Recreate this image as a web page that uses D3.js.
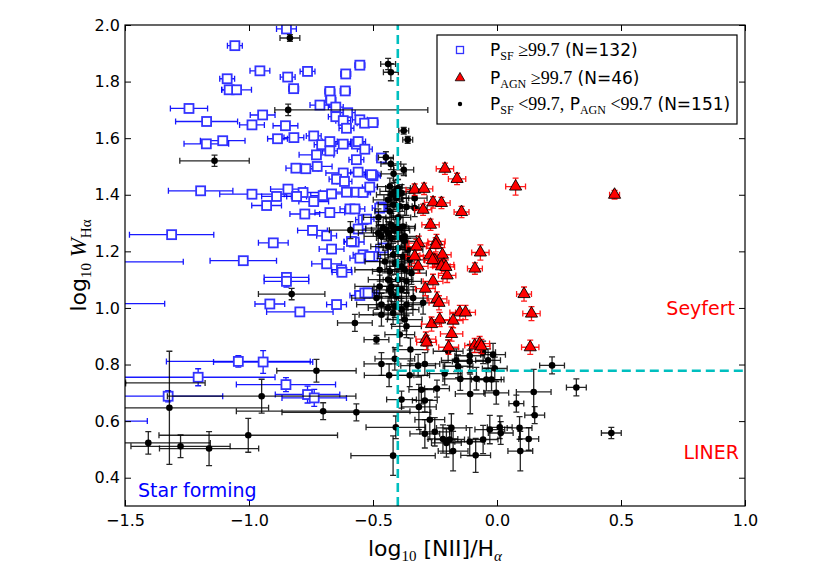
<!DOCTYPE html>
<html>
<head>
<meta charset="utf-8">
<script src="https://cdn.jsdelivr.net/npm/d3@7"></script>
<style>
  body { margin: 0; background: #fff; }
  svg text { font-family: "DejaVu Sans", sans-serif; }
</style>
</head>
<body>
<div id="whan"></div>
<script>
// [log NII/Ha, log W_Ha, x error, y error, (optional upper x error)]
const sfPoints = [
  [-0.849,1.986,0.04,0.01],[-1.057,1.927,0.03,0.01],[-0.956,1.838,0.04,0.01],[-0.764,1.836,0.03,0.01],
  [-0.844,1.816,0.03,0.01],[-0.610,1.827,0.02,0.01],[-0.553,1.858,0.02,0.01],[-1.088,1.810,0.03,0.01],
  [-1.080,1.771,0.03,0.01],[-1.050,1.771,0.06,0.01],[-0.820,1.775,0.02,0.01],[-0.674,1.765,0.02,0.01],
  [-0.612,1.767,0.02,0.01],[-0.670,1.735,0.02,0.01],[-1.242,1.705,0.075,0.01],[-0.714,1.717,0.04,0.01],
  [-0.650,1.710,0.03,0.01],[-0.602,1.690,0.03,0.01],[-0.945,1.682,0.05,0.01],[-1.171,1.659,0.125,0.01],
  [-0.988,1.647,0.05,0.01],[-0.853,1.644,0.05,0.01],[-0.650,1.676,0.03,0.01],[-0.620,1.662,0.03,0.01],
  [-0.607,1.635,0.03,0.01],[-0.553,1.665,0.03,0.01],[-0.534,1.653,0.03,0.01],[-0.500,1.655,0.02,0.01],
  [-0.739,1.608,0.03,0.01],[-0.885,1.598,0.04,0.01],[-0.819,1.602,0.04,0.01],[-1.172,1.580,0.09,0.01],
  [-1.106,1.591,0.09,0.01],[-0.707,1.577,0.03,0.01],[-0.674,1.588,0.03,0.01],[-0.620,1.579,0.03,0.01],
  [-0.567,1.579,0.03,0.01],[-0.560,1.588,0.03,0.01],[-0.533,1.561,0.03,0.01],[-0.728,1.541,0.07,0.01],
  [-0.674,1.555,0.03,0.01],[-0.567,1.524,0.03,0.01],[-0.811,1.494,0.04,0.01],[-0.771,1.492,0.05,0.01],
  [-0.725,1.500,0.06,0.01],[-0.620,1.477,0.07,0.01],[-0.560,1.480,0.03,0.01],[-0.500,1.467,0.03,0.01],
  [-0.647,1.455,0.03,0.01],[-0.615,1.447,0.03,0.01],[-1.195,1.414,0.13,0.01],[-0.988,1.402,0.13,0.01],
  [-0.843,1.420,0.07,0.01],[-0.889,1.394,0.06,0.01],[-0.782,1.408,0.07,0.01],[-0.808,1.394,0.04,0.01],
  [-0.929,1.362,0.06,0.01],[-0.739,1.376,0.06,0.01],[-0.701,1.397,0.05,0.01],[-0.667,1.403,0.05,0.01],
  [-0.607,1.409,0.05,0.01],[-0.567,1.409,0.05,0.01],[-0.540,1.408,0.03,0.01],[-0.513,1.427,0.03,0.01],
  [-0.775,1.332,0.06,0.01],[-0.674,1.337,0.06,0.01],[-0.593,1.350,0.04,0.01],[-0.573,1.350,0.04,0.01],
  [-0.466,1.357,0.02,0.01],[-0.540,1.312,0.03,0.01],[-0.526,1.314,0.03,0.01],[-0.560,1.279,0.03,0.01],
  [-0.744,1.274,0.06,0.01],[-0.687,1.255,0.04,0.01],[-1.312,1.259,0.17,0.01],[-0.902,1.230,0.06,0.01],
  [-0.576,1.233,0.04,0.01],[-0.667,1.208,0.05,0.01],[-0.540,1.188,0.04,0.01],[-0.500,1.182,0.03,0.01],
  [-1.023,1.167,0.134,0.01],[-0.687,1.156,0.06,0.01],[-0.627,1.135,0.04,0.01],[-0.625,1.126,0.04,0.01],
  [-0.553,1.176,0.04,0.01],[-0.849,1.108,0.09,0.01],[-0.849,1.094,0.09,0.02],[-0.553,1.044,0.04,0.01],
  [-0.533,1.053,0.04,0.01],[-0.916,1.014,0.06,0.01],[-0.647,1.012,0.04,0.01],[-0.795,0.986,0.134,0.015],
  [-1.043,0.811,0.29,0.02],[-0.943,0.809,0.2,0.04],[-1.205,0.755,0.31,0.03],[-0.851,0.729,0.2,0.025],
  [-1.326,0.688,0.22,0.02],[-0.764,0.694,0.13,0.03],[-0.737,0.682,0.13,0.03],[-0.466,1.530,0.02,0.01],
  [-0.506,1.471,0.03,0.01],[-0.459,1.212,0.03,0.01],[-0.587,1.235,0.03,0.01],[-0.473,1.353,0.03,0.01],
  [-0.513,1.182,0.03,0.01],[-0.520,1.053,0.04,0.01],[-1.620,1.163,0.355,0.01],[-1.600,1.015,0.26,0.01],
  [-1.650,0.600,0.24,0.01]
];

const agnPoints = [
  [-0.210,1.492,0.035,0.02],[-0.161,1.456,0.035,0.02],[0.075,1.429,0.04,0.03],[-0.332,1.418,0.035,0.02],
  [-0.294,1.421,0.035,0.02],[-0.258,1.373,0.035,0.02],[-0.224,1.371,0.035,0.02],[-0.298,1.347,0.035,0.02],
  [-0.143,1.339,0.03,0.02],[-0.268,1.294,0.035,0.02],[-0.315,1.229,0.04,0.025],[-0.244,1.235,0.035,0.025],
  [-0.247,1.223,0.035,0.025],[-0.325,1.217,0.04,0.025],[-0.067,1.196,0.035,0.027],[-0.271,1.186,0.04,0.025],
  [-0.220,1.188,0.035,0.025],[-0.251,1.168,0.04,0.025],[-0.214,1.153,0.04,0.025],[-0.224,1.147,0.035,0.025],
  [-0.318,1.147,0.04,0.025],[-0.089,1.139,0.03,0.02],[-0.201,1.115,0.035,0.025],[-0.258,1.094,0.04,0.025],
  [-0.289,1.068,0.04,0.025],[0.109,1.049,0.03,0.025],[-0.242,1.032,0.04,0.025],[-0.234,1.018,0.04,0.025],
  [-0.150,0.984,0.04,0.025],[-0.127,0.984,0.04,0.025],[0.139,0.980,0.035,0.025],[-0.264,0.943,0.04,0.025],
  [-0.231,0.959,0.04,0.025],[-0.177,0.955,0.04,0.025],[-0.183,0.908,0.045,0.025],[-0.287,0.890,0.04,0.025],
  [-0.284,0.878,0.04,0.025],[-0.195,0.861,0.04,0.025],[-0.090,0.867,0.04,0.025],[-0.070,0.874,0.04,0.025],
  [-0.063,0.864,0.035,0.025],[0.134,0.861,0.035,0.025],[0.474,1.400,0.02,0.015],[-0.206,1.145,0.035,0.025],
  [-0.260,1.169,0.035,0.025],[-0.332,1.182,0.035,0.025]
];

const otherPoints = [
  [-0.835,1.954,0.04,0.012],[-0.439,1.862,0.03,0.02],[-0.428,1.833,0.03,0.03],[-0.842,1.700,0.054,0.02,0.563],
  [-0.376,1.626,0.02,0.012],[-0.360,1.594,0.02,0.012],[-1.139,1.520,0.14,0.02],[-0.448,1.532,0.03,0.02],
  [-0.428,1.509,0.04,0.02],[-0.417,1.474,0.05,0.03],[-0.376,1.488,0.04,0.02],[-0.432,1.429,0.05,0.03],
  [-0.412,1.412,0.06,0.04],[-0.399,1.424,0.05,0.03],[-0.426,1.400,0.06,0.04],[-0.406,1.388,0.05,0.04],
  [-0.439,1.382,0.06,0.03],[-0.385,1.406,0.05,0.03],[-0.419,1.365,0.06,0.04],[-0.432,1.341,0.06,0.04],
  [-0.392,1.359,0.05,0.04],[-0.332,1.388,0.05,0.03],[-0.332,1.353,0.05,0.03],[-0.365,1.357,0.05,0.03],
  [-0.459,1.282,0.07,0.04],[-0.439,1.265,0.06,0.04],[-0.412,1.274,0.06,0.04],[-0.392,1.282,0.06,0.04],
  [-0.372,1.253,0.06,0.04],[-0.591,1.275,0.085,0.03],[-0.479,1.265,0.08,0.04],[-0.446,1.276,0.06,0.04],
  [-0.426,1.294,0.06,0.04],[-0.406,1.282,0.05,0.04],[-0.379,1.288,0.05,0.04],[-0.466,1.253,0.07,0.04],
  [-0.426,1.247,0.06,0.04],[-0.385,1.247,0.06,0.04],[-0.372,1.235,0.06,0.04],[-0.439,1.217,0.07,0.04],
  [-0.399,1.212,0.06,0.04],[-0.359,1.206,0.06,0.04],[-0.419,1.188,0.06,0.04],[-0.379,1.182,0.06,0.04],
  [-0.352,1.170,0.06,0.04],[-0.452,1.164,0.08,0.04],[-0.412,1.159,0.06,0.04],[-0.385,1.147,0.06,0.04],
  [-0.473,1.135,0.1,0.04],[-0.432,1.129,0.07,0.04],[-0.372,1.135,0.06,0.04],[-0.345,1.123,0.06,0.04],
  [-0.439,1.100,0.08,0.04],[-0.399,1.100,0.06,0.04],[-0.365,1.094,0.06,0.04],[-0.473,1.076,0.1,0.04],
  [-0.426,1.076,0.07,0.04],[-0.385,1.064,0.06,0.04],[-0.486,1.035,0.1,0.04],[-0.426,1.053,0.07,0.04],
  [-0.466,1.012,0.1,0.04],[-0.439,1.000,0.08,0.04],[-0.412,1.006,0.07,0.04],[-0.385,0.994,0.07,0.04],
  [-0.338,1.035,0.06,0.04],[-0.298,1.018,0.06,0.04],[-0.466,0.976,0.09,0.04],[-0.419,0.982,0.08,0.04],
  [-0.372,0.959,0.07,0.04],[-0.365,0.935,0.06,0.04],[-0.573,0.947,0.07,0.03],[-0.486,0.888,0.05,0.015],
  [-0.828,1.049,0.134,0.02],[-0.392,0.906,0.06,0.04],[-0.349,0.853,0.07,0.04],[-0.412,0.820,0.08,0.04],
  [-0.466,0.802,0.07,0.04],[-0.435,0.762,0.1,0.04],[-0.352,0.762,0.08,0.04],[-0.318,0.796,0.07,0.04],
  [-0.291,0.802,0.06,0.04],[-0.211,0.768,0.07,0.04],[-0.197,0.847,0.06,0.04],[-0.164,0.815,0.06,0.04],
  [-0.157,0.794,0.06,0.04],[-0.148,0.749,0.07,0.04],[-0.110,0.831,0.06,0.04],[-0.083,0.750,0.06,0.04],
  [-0.056,0.843,0.05,0.04],[-0.036,0.815,0.05,0.04],[-0.016,0.835,0.05,0.04],[-0.009,0.786,0.05,0.04],
  [-0.043,0.747,0.06,0.04],[-0.022,0.747,0.05,0.04],[-0.110,0.811,0.07,0.04],[0.222,0.797,0.05,0.03],
  [0.320,0.719,0.04,0.03],[-0.305,0.711,0.05,0.05],[-0.242,0.715,0.05,0.03],[-0.385,0.676,0.06,0.03],
  [-0.291,0.673,0.05,0.04],[-0.315,0.650,0.07,0.08],[-0.271,0.605,0.06,0.07],[-0.567,0.631,0.3,0.03],
  [-0.108,0.696,0.06,0.07],[-0.003,0.700,0.05,0.04],[0.078,0.662,0.03,0.03],[0.148,0.703,0.07,0.08],
  [0.152,0.621,0.04,0.03],[-0.408,0.578,0.12,0.04],[-0.419,0.478,0.17,0.07],[-0.291,0.555,0.06,0.05],
  [-0.251,0.562,0.06,0.05],[-0.218,0.537,0.06,0.05],[-0.204,0.523,0.06,0.05],[-0.184,0.576,0.06,0.05],
  [-0.177,0.494,0.06,0.07],[-0.191,0.535,0.06,0.05],[-0.110,0.527,0.06,0.05],[-0.086,0.479,0.06,0.06],
  [-0.056,0.535,0.06,0.05],[-0.029,0.570,0.06,0.05],[0.011,0.578,0.05,0.04],[0.015,0.558,0.05,0.04],
  [0.091,0.576,0.05,0.04],[0.128,0.537,0.04,0.04],[0.094,0.494,0.05,0.07],[0.461,0.558,0.04,0.02],
  [-0.728,0.778,0.16,0.04],[-0.949,0.688,0.38,0.06],[-1.321,0.647,0.4,0.2],[-0.701,0.635,0.35,0.03],
  [-1.003,0.550,0.36,0.06],[-1.406,0.523,0.25,0.04],[-1.276,0.511,0.2,0.04],[-1.161,0.503,0.2,0.06],
  [-1.507,0.735,0.33,0.01],[-0.406,1.041,0.07,0.04],[-0.432,1.064,0.07,0.04],[-0.365,1.012,0.06,0.04],
  [-0.478,1.320,0.06,0.03],[-0.398,1.320,0.05,0.04]
];

const xTicks = [-1.5, -1.0, -0.5, 0.0, 0.5, 1.0];
const yTicks = [0.4, 0.6, 0.8, 1.0, 1.2, 1.4, 1.6, 1.8, 2.0];
const niiCut = -0.4;       // log [NII]/Ha boundary
const whaCut = 0.778;      // log W_Ha = log 6 boundary

const width = 827, height = 582;
const margin = { top: 25, right: 82, bottom: 76, left: 125 };

const svg = d3.select("#whan").append("svg")
    .attr("width", width)
    .attr("height", height);

const x = d3.scaleLinear().domain([-1.5, 1.0]).range([margin.left, width - margin.right]);
const y = d3.scaleLinear().domain([0.3, 2.0]).range([height - margin.bottom, margin.top]);

svg.append("clipPath").attr("id", "plot-clip")
  .append("rect")
    .attr("x", margin.left).attr("y", margin.top)
    .attr("width", width - margin.left - margin.right)
    .attr("height", height - margin.top - margin.bottom);

const plot = svg.append("g").attr("clip-path", "url(#plot-clip)");

// error bars with caps
function errorPath(p) {
    const [vx, vy, xe, ye, xeHi] = p;
    const hi = xeHi === undefined ? xe : xeHi;
    const cx = x(vx), cy = y(vy);
    const x0 = x(vx - xe), x1 = x(vx + hi), y0 = y(vy - ye), y1 = y(vy + ye);
    const c = 3;
    return `M${x0},${cy}H${x1}M${x0},${cy - c}V${cy + c}M${x1},${cy - c}V${cy + c}` +
           `M${cx},${y0}V${y1}M${cx - c},${y0}H${cx + c}M${cx - c},${y1}H${cx + c}`;
}

function drawErrors(pts, color, opacity) {
    plot.append("g")
        .attr("fill", "none")
        .attr("stroke", color)
        .attr("stroke-opacity", opacity)
        .attr("stroke-width", 1.3)
      .selectAll("path")
      .data(pts)
      .join("path")
        .attr("d", errorPath);
}

// star forming
drawErrors(sfPoints, "blue", 0.9);
plot.append("g").selectAll("rect")
    .data(sfPoints)
    .join("rect")
      .attr("x", d => x(d[0]) - 4.5)
      .attr("y", d => y(d[1]) - 4.5)
      .attr("width", 9)
      .attr("height", 9)
      .attr("fill", "white")
      .attr("stroke", "#3333ff")
      .attr("stroke-width", 1.8);

// others
drawErrors(otherPoints, "black", 0.85);
plot.append("g").selectAll("circle")
    .data(otherPoints)
    .join("circle")
      .attr("cx", d => x(d[0]))
      .attr("cy", d => y(d[1]))
      .attr("r", 3.3)
      .attr("fill", "black");

// AGN
drawErrors(agnPoints, "red", 0.9);
const tri = d3.symbol().type(d3.symbolTriangle).size(64);
plot.append("g").selectAll("path")
    .data(agnPoints)
    .join("path")
      .attr("transform", d => `translate(${x(d[0])},${y(d[1])})`)
      .attr("d", tri)
      .attr("fill", "red")
      .attr("stroke", "black")
      .attr("stroke-width", 0.9);

// WHAN boundaries
svg.append("line")
    .attr("x1", x(niiCut)).attr("x2", x(niiCut))
    .attr("y1", y(0.3)).attr("y2", y(2.0))
    .attr("stroke", "#00bfbf").attr("stroke-width", 2.6)
    .attr("stroke-dasharray", "9,5");
svg.append("line")
    .attr("x1", x(niiCut)).attr("x2", x(1.0))
    .attr("y1", y(whaCut)).attr("y2", y(whaCut))
    .attr("stroke", "#00bfbf").attr("stroke-width", 2.6)
    .attr("stroke-dasharray", "9,5");

// axes
const fmt = d3.format(".1f");
svg.append("g")
    .attr("transform", `translate(0,${y(0.3)})`)
    .call(d3.axisBottom(x).tickValues(xTicks).tickFormat(fmt).tickSizeInner(-6).tickSizeOuter(0).tickPadding(9));
svg.append("g")
    .attr("transform", `translate(${x(-1.5)},0)`)
    .call(d3.axisLeft(y).tickValues(yTicks).tickFormat(fmt).tickSizeInner(-6).tickSizeOuter(0).tickPadding(5));
svg.append("g")
    .attr("transform", `translate(0,${y(2.0)})`)
    .call(d3.axisTop(x).tickValues(xTicks).tickFormat("").tickSizeInner(-6).tickSizeOuter(0));
svg.append("g")
    .attr("transform", `translate(${x(1.0)},0)`)
    .call(d3.axisRight(y).tickValues(yTicks).tickFormat("").tickSizeInner(-6).tickSizeOuter(0));

svg.selectAll(".domain").remove();
svg.selectAll(".tick line").attr("stroke", "black");
svg.selectAll(".tick text")
    .attr("font-family", "DejaVu Sans")
    .attr("font-size", 16)
    .attr("fill", "black");

svg.append("rect")
    .attr("x", x(-1.5)).attr("y", y(2.0))
    .attr("width", x(1.0) - x(-1.5))
    .attr("height", y(0.3) - y(2.0))
    .attr("fill", "none")
    .attr("stroke", "black")
    .attr("stroke-width", 1.2);

// axis labels
const xl = svg.append("text")
    .attr("x", (x(-1.5) + x(1.0)) / 2)
    .attr("y", 556)
    .attr("text-anchor", "middle")
    .attr("font-size", 22);
xl.append("tspan").text("log");
xl.append("tspan").attr("font-family", "Liberation Serif").attr("font-size", 15).attr("dy", 5).text("10");
xl.append("tspan").attr("dy", -5).text(" [NII]/H");
xl.append("tspan").attr("font-family", "Liberation Serif").attr("font-style", "italic").attr("font-size", 15).attr("dy", 5).text("α");

const yl = svg.append("text")
    .attr("transform", `translate(86,${(y(0.3) + y(2.0)) / 2}) rotate(-90)`)
    .attr("text-anchor", "middle")
    .attr("font-size", 22);
yl.append("tspan").text("log");
yl.append("tspan").attr("font-family", "Liberation Serif").attr("font-size", 15).attr("dy", 5).text("10");
yl.append("tspan").attr("font-family", "Liberation Serif").attr("font-style", "italic").attr("font-size", 23).attr("dy", -5).text(" W");
yl.append("tspan").attr("font-family", "Liberation Serif").attr("font-size", 15).attr("dy", 5).text("Hα");

// region names
svg.append("text").attr("x", 735).attr("y", 315).attr("text-anchor", "end")
    .attr("font-size", 19).attr("fill", "red").text("Seyfert");
svg.append("text").attr("x", 739).attr("y", 459).attr("text-anchor", "end")
    .attr("font-size", 19).attr("fill", "red").text("LINER");
svg.append("text").attr("x", 138).attr("y", 497)
    .attr("font-size", 19).attr("fill", "blue").text("Star forming");

// legend
const legend = svg.append("g");
legend.append("rect")
    .attr("x", 437).attr("y", 35).attr("width", 300).attr("height", 89)
    .attr("fill", "white").attr("stroke", "black").attr("stroke-width", 1.2);

const rows = [50, 78, 104];
legend.append("rect")
    .attr("x", 456.5).attr("y", rows[0] - 3.5).attr("width", 7).attr("height", 7)
    .attr("fill", "white").attr("stroke", "#3333ff").attr("stroke-width", 1.3);
legend.append("path")
    .attr("transform", `translate(460,${rows[1]})`)
    .attr("d", d3.symbol().type(d3.symbolTriangle).size(40))
    .attr("fill", "red").attr("stroke", "black").attr("stroke-width", 0.8);
legend.append("circle").attr("cx", 460).attr("cy", rows[2]).attr("r", 2.2).attr("fill", "black");

function legendLabel(row, parts) {
    const t = legend.append("text").attr("x", 490).attr("y", row + 6).attr("font-size", 17);
    parts.forEach(([txt, kind]) => {
        const s = t.append("tspan").text(txt);
        if (kind === "sub") s.attr("font-family", "Liberation Serif").attr("font-size", 12).attr("dy", 4);
        if (kind === "math") s.attr("font-family", "Liberation Serif").attr("font-size", 18).attr("dy", -4);
    });
    return t;
}
legendLabel(rows[0], [["P", ""], ["SF", "sub"], [" ≥99.7", "math"], [" (N=132)", ""]]);
legendLabel(rows[1], [["P", ""], ["AGN", "sub"], [" ≥99.7", "math"], [" (N=46)", ""]]);
legendLabel(rows[2], [["P", ""], ["SF", "sub"], [" <99.7,", "math"], [" P", ""], ["AGN", "sub"], [" <99.7", "math"], [" (N=151)", ""]]);
</script>
</body>
</html>
